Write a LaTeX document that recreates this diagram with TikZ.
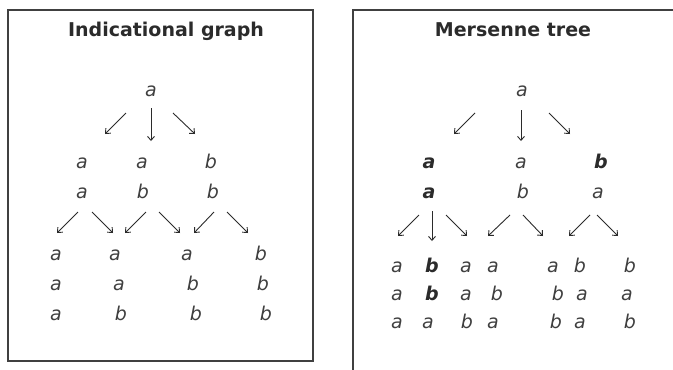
\documentclass[tikz,border=0pt]{standalone}
\usepackage{fontspec}
\setmainfont{DejaVu Sans}
\usetikzlibrary{arrows.meta}
\definecolor{ink}{HTML}{2B2B2B}
\tikzset{
  box/.style={draw=ink!90, line width=1.4pt},
  ttl/.style={font=\fontsize{19}{21}\selectfont\bfseries, text=ink, anchor=base, inner sep=0pt},
  lt/.style={font=\fontsize{19}{21}\selectfont\itshape, text=ink!90, anchor=base, inner sep=0pt},
  bl/.style={font=\fontsize{19}{21}\selectfont\bfseries\itshape, text=ink, anchor=base, inner sep=0pt},
  arr/.style={draw=ink, line width=0.9pt, -{Straight Barb[length=4pt,width=7pt]}}
}
\begin{document}
\begin{tikzpicture}[x=1pt,y=-1pt]
\useasboundingbox (0,0) rectangle (673,370);
\fill[white] (0,0) rectangle (673,370);
% boxes
\draw[box] (8,10) rectangle (313,361);
\draw[box] (353,372) -- (353,10) -- (675,10);
% titles
\node[ttl] (t1) at (166,36) {Indicational graph};
\node[ttl] (t2) at (513,36) {Mersenne tree};

% ---------- left: indicational graph ----------
\node[lt] (L0) at (151,96) {a};
\node[lt] (L1a) at (82,168) {a};
\node[lt] (L1b) at (142,168) {a};
\node[lt] (L1c) at (211,168) {b};
\node[lt] (L2a) at (82,198) {a};
\node[lt] (L2b) at (143,198) {b};
\node[lt] (L2c) at (213,198) {b};
\node[lt] (L3a) at (56,260) {a};
\node[lt] (L3b) at (115,260) {a};
\node[lt] (L3c) at (187,260) {a};
\node[lt] (L3d) at (261,260) {b};
\node[lt] (L4a) at (56,290) {a};
\node[lt] (L4b) at (119,290) {a};
\node[lt] (L4c) at (193,290) {b};
\node[lt] (L4d) at (263,290) {b};
\node[lt] (L5a) at (56,320) {a};
\node[lt] (L5b) at (121,320) {b};
\node[lt] (L5c) at (196,320) {b};
\node[lt] (L5d) at (266,320) {b};
% arrow end points
\coordinate (la1s) at (126,113); \coordinate (la1e) at (105,134);
\coordinate (la2s) at (151,108); \coordinate (la2e) at (151,141);
\coordinate (la3s) at (173,113); \coordinate (la3e) at (195,134);
\coordinate (lb1s) at (78,212);  \coordinate (lb1e) at (57,233);
\coordinate (lb2s) at (92,212);  \coordinate (lb2e) at (113,233);
\coordinate (lb3s) at (146,212); \coordinate (lb3e) at (125,233);
\coordinate (lb4s) at (159,212); \coordinate (lb4e) at (180,233);
\coordinate (lb5s) at (214,212); \coordinate (lb5e) at (194,233);
\coordinate (lb6s) at (227,212); \coordinate (lb6e) at (248,233);
\foreach \s/\e in {la1s/la1e,la2s/la2e,la3s/la3e,lb1s/lb1e,lb2s/lb2e,lb3s/lb3e,lb4s/lb4e,lb5s/lb5e,lb6s/lb6e}
  \draw[arr] (\s) -- (\e);

% ---------- right: Mersenne tree ----------
\node[lt] (R0) at (522,96) {a};
\node[bl] (R1a) at (429,168) {a};
\node[lt] (R1b) at (521,168) {a};
\node[bl] (R1c) at (601,168) {b};
\node[bl] (R2a) at (429,198) {a};
\node[lt] (R2b) at (523,198) {b};
\node[lt] (R2c) at (598,198) {a};
% row 4
\node[lt] (R3a) at (397,272) {a};
\node[bl] (R3b) at (432,272) {b};
\node[lt] (R3c) at (466,272) {a};
\node[lt] (R3d) at (493,272) {a};
\node[lt] (R3e) at (553,272) {a};
\node[lt] (R3f) at (580,272) {b};
\node[lt] (R3g) at (630,272) {b};
% row 5
\node[lt] (R4a) at (397,300) {a};
\node[bl] (R4b) at (432,300) {b};
\node[lt] (R4c) at (466,300) {a};
\node[lt] (R4d) at (497,300) {b};
\node[lt] (R4e) at (558,300) {b};
\node[lt] (R4f) at (582,300) {a};
\node[lt] (R4g) at (627,300) {a};
% row 6
\node[lt] (R5a) at (397,328) {a};
\node[lt] (R5b) at (428,328) {a};
\node[lt] (R5c) at (467,328) {b};
\node[lt] (R5d) at (493,328) {a};
\node[lt] (R5e) at (556,328) {b};
\node[lt] (R5f) at (580,328) {a};
\node[lt] (R5g) at (630,328) {b};
% arrows
\coordinate (ra1s) at (475,113); \coordinate (ra1e) at (454,134);
\coordinate (ra2s) at (521,110); \coordinate (ra2e) at (521,141);
\coordinate (ra3s) at (549,113); \coordinate (ra3e) at (570,134);
\coordinate (rb1s) at (419,215); \coordinate (rb1e) at (398,236);
\coordinate (rb2s) at (432,211); \coordinate (rb2e) at (432,241);
\coordinate (rb3s) at (446,215); \coordinate (rb3e) at (467,236);
\coordinate (rb4s) at (510,215); \coordinate (rb4e) at (488,236);
\coordinate (rb5s) at (523,215); \coordinate (rb5e) at (543,236);
\coordinate (rb6s) at (590,215); \coordinate (rb6e) at (569,236);
\coordinate (rb7s) at (597,215); \coordinate (rb7e) at (618,236);
\foreach \s/\e in {ra1s/ra1e,ra2s/ra2e,ra3s/ra3e,rb1s/rb1e,rb2s/rb2e,rb3s/rb3e,rb4s/rb4e,rb5s/rb5e,rb6s/rb6e,rb7s/rb7e}
  \draw[arr] (\s) -- (\e);
\end{tikzpicture}
\end{document}
